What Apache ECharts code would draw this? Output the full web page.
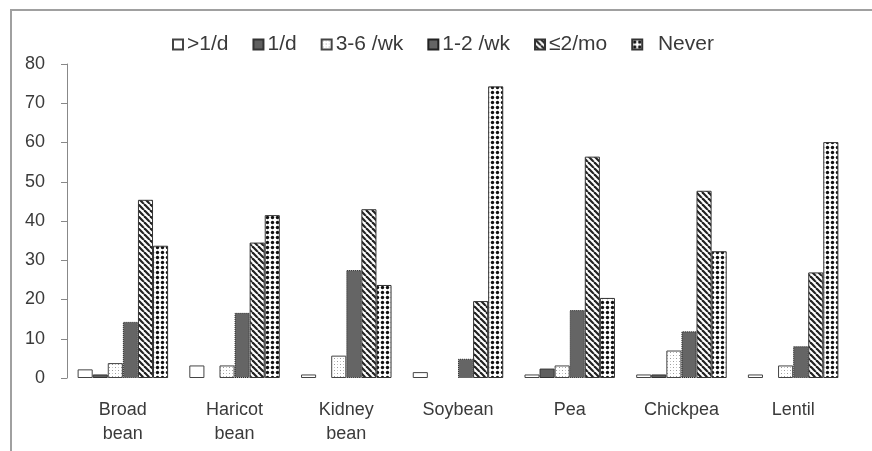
<!DOCTYPE html>
<html>
<head>
<meta charset="utf-8">
<script src="https://cdn.jsdelivr.net/npm/echarts@6/dist/echarts.min.js"></script>
<style>
  html, body { margin: 0; padding: 0; background: #fff; }
  #chart { width: 872px; height: 451px; }
</style>
</head>
<body>
<div id="chart"></div>
<script>
// legume intake frequency, % of respondents
var categories = ['Broad\nbean', 'Haricot\nbean', 'Kidney\nbean', 'Soybean', 'Pea', 'Chickpea', 'Lentil'];
var seriesNames = ['>1/d', '1/d', '3-6 /wk', '1-2 /wk', '≤2/mo', '  Never'];
var moreThanDaily = [2.2, 3.2, 0.9, 1.5, 0.9, 0.9, 0.9];
var daily = [0.9, 0, 0, 0, 2.4, 0.9, 0];
var threeToSixWk = [3.8, 3.2, 5.7, 0, 3.2, 7.0, 3.2];
var oneToTwoWk = [14.3, 16.6, 27.5, 4.9, 17.3, 11.9, 8.1];
var twoPerMonth = [45.4, 34.5, 43.0, 19.6, 56.4, 47.7, 26.9];
var never = [33.7, 41.5, 23.7, 74.3, 20.4, 32.3, 60.1];
var yTicks = [0, 10, 20, 30, 40, 50, 60, 70, 80];

function makePattern(size, draw) {
	var c = document.createElement('canvas');
	c.width = size;
	c.height = size;
	var ctx = c.getContext('2d');
	ctx.fillStyle = '#fff';
	ctx.fillRect(0, 0, size, size);
	draw(ctx);
	return { image: c, repeat: 'repeat' };
}

var speckle = makePattern(6, function (ctx) {
	ctx.fillStyle = '#9a9a9a';
	ctx.fillRect(1, 1, 1, 1);
	ctx.fillRect(4, 4, 1, 1);
	ctx.fillStyle = '#c8c8c8';
	ctx.fillRect(4, 1, 1, 1);
	ctx.fillRect(1, 4, 1, 1);
});
var stripes = makePattern(6, function (ctx) {
	ctx.strokeStyle = '#222';
	ctx.lineWidth = 2.2;
	for (var k = -6; k <= 12; k += 6) {
		ctx.beginPath();
		ctx.moveTo(k, 0);
		ctx.lineTo(k + 6, 6);
		ctx.stroke();
	}
});
var dots = makePattern(5, function (ctx) {
	ctx.fillStyle = '#111';
	ctx.beginPath();
	ctx.arc(2.5, 2.5, 1.7, 0, Math.PI * 2);
	ctx.fill();
});

var chartDom = document.getElementById('chart');
var myChart = echarts.init(chartDom);
var option;

var styles = [
	{ color: '#fff', borderColor: '#444', borderWidth: 1 },
	{ color: '#5f5f5f', borderColor: '#333', borderWidth: 1 },
	{ color: speckle, borderColor: '#444', borderWidth: 1 },
	{ color: '#656565', borderColor: '#222', borderWidth: 1, borderType: 'dotted' },
	{ color: stripes, borderColor: '#333', borderWidth: 1 },
	{ color: dots, borderColor: '#333', borderWidth: 1 }
];
var values = [moreThanDaily, daily, threeToSixWk, oneToTwoWk, twoPerMonth, never];

option = {
	animation: false,
	backgroundColor: '#fff',
	textStyle: { fontFamily: 'Liberation Sans, Arial, sans-serif' },
	graphic: [
		{
			type: 'polyline',
			shape: { points: [[11, 451], [11, 10], [872, 10]] },
			style: { stroke: '#a0a0a0', lineWidth: 2, fill: null }
		}
	],
	legend: {
		top: 29,
		left: 167,
		itemWidth: 10,
		itemHeight: 10,
		itemGap: 24,
		textStyle: { fontSize: 21, color: '#3a3a3a', padding: [0, 0, 0, -1] },
		data: seriesNames.map(function (n) { return { name: n, icon: 'rect' }; })
	},
	grid: { left: 67, right: 23, top: 64, bottom: 73 },
	xAxis: {
		type: 'category',
		data: categories,
		axisLine: { show: false },
		axisTick: { show: false },
		axisLabel: { fontSize: 18, color: '#3a3a3a', lineHeight: 24, margin: 20 }
	},
	yAxis: {
		type: 'value',
		min: 0,
		max: 80,
		interval: 10,
		axisLine: { show: true, lineStyle: { color: '#888' } },
		axisTick: { show: true, length: 6, lineStyle: { color: '#888' } },
		splitLine: { show: false },
		axisLabel: {
			fontSize: 18,
			color: '#3a3a3a',
			margin: 22,
			formatter: function (v) { return yTicks.indexOf(v) >= 0 ? String(v) : ''; }
		}
	},
	series: seriesNames.map(function (n, i) {
		return {
			name: n,
			type: 'bar',
			barGap: '0%',
			barCategoryGap: '19%',
			// zero shares are not drawn at all
			data: values[i].map(function (v) { return v === 0 ? '-' : v; }),
			itemStyle: styles[i]
		};
	})
};

option && myChart.setOption(option);
</script>
</body>
</html>
